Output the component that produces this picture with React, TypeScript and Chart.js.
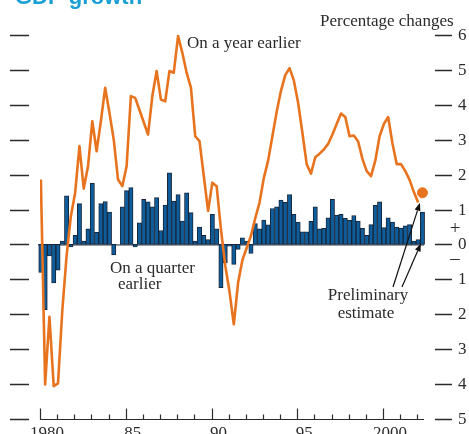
import React, { useEffect, useRef } from 'react';
import { Chart, registerables } from 'chart.js';

Chart.register(...registerables);

// ---- Data ----
const START_YEAR = 1980; // first quarter: 1980 Q1

// Percentage change on a quarter earlier (bars), 1980 Q1 – 2002 Q2
const QUARTER_ON_QUARTER = [
  -0.8, -1.87, -0.33, -1.1, -0.74, 0.1, 1.39, -0.07, 0.26, 1.17,
  0.1, 0.45, 1.75, 0.35, 1.17, 1.23, 0.93, -0.3, 0.0, 1.08,
  1.54, 1.63, -0.07, 0.62, 1.29, 1.22, 1.08, 1.34, 0.4, 1.13,
  2.05, 1.24, 1.43, 0.67, 1.48, 0.91, 0.1, 0.5, 0.26, 0.14,
  0.86, 0.45, -1.24, -0.53, -0.05, -0.57, -0.14, 0.19, 0.1, -0.26,
  0.6, 0.45, 0.7, 0.56, 1.03, 1.08, 1.27, 1.21, 1.43, 0.86,
  0.64, 0.36, 0.36, 0.66, 1.08, 0.45, 0.46, 0.76, 1.29, 0.84,
  0.86, 0.75, 0.69, 0.83, 0.67, 0.46, 0.26, 0.57, 1.12, 1.22,
  0.48, 0.76, 0.64, 0.5, 0.47, 0.53, 0.57, 0.1, 0.14, 0.93,
];

// Percentage change on a year earlier (line), 1980 Q1 – 2002 Q1
const YEAR_ON_YEAR = [
  1.86, -4.01, -2.07, -4.06, -3.98, -1.9, -0.33, 0.81, 1.48, 2.82,
  1.6, 2.24, 3.53, 2.67, 3.53, 4.49, 3.77, 3.0, 1.86, 1.67,
  2.24, 4.25, 4.2, 3.85, 3.5, 3.15, 4.25, 4.97, 4.15, 4.1,
  4.97, 4.92, 5.97, 5.49, 4.92, 4.49, 3.1, 2.96, 1.96, 0.96,
  1.77, 1.67, 0.43, -0.6, -1.35, -2.29, -1.1, -0.45, -0.1, 0.25,
  0.75, 1.2, 1.9, 2.4, 3.1, 3.8, 4.4, 4.85, 5.05, 4.7,
  4.06, 3.2, 2.3, 2.03, 2.5, 2.6, 2.72, 2.88, 3.15, 3.45,
  3.75, 3.65, 3.1, 3.12, 2.95, 2.45, 2.1, 1.96, 2.4, 3.1,
  3.45, 3.65, 2.9, 2.3, 2.3, 2.1, 1.85, 1.5, 1.2,
];

// Preliminary estimate (on a year earlier) for the latest quarter
const PRELIM_YEAR_ON_YEAR = 1.48;

const Y_TICKS = [6, 5, 4, 3, 2, 1, 0, -1, -2, -3, -4, -5];
const X_LABEL_YEARS = [1980, 1985, 1990, 1995, 2000];
const X_LABELS = ['1980', '85', '90', '95', '2000'];
const X_FIRST_TICK = 1980;
const X_LAST_TICK = 2002;

const TITLE = 'GDP growth';
const UNITS = 'Percentage changes';

// ---- Styles ----
const ORANGE = '#e8731e';
const BAR_FILL = '#0f5c9a';
const BAR_EDGE = '#17263a';
const INK = '#2b2b2b';
const TITLE_BLUE = '#1a9fd4';
const SERIF = '"Liberation Serif", "DejaVu Serif", serif';

const quarterX = (k: number) => START_YEAR + k / 4 + 0.05;

function drawArrow(ctx: CanvasRenderingContext2D, x1: number, y1: number, x2: number, y2: number) {
  const ang = Math.atan2(y2 - y1, x2 - x1);
  const len = 8;
  const half = 3;
  const bx = x2 - len * Math.cos(ang);
  const by = y2 - len * Math.sin(ang);
  ctx.beginPath();
  ctx.moveTo(x1, y1);
  ctx.lineTo(bx, by);
  ctx.lineWidth = 1.2;
  ctx.strokeStyle = '#111';
  ctx.stroke();
  ctx.beginPath();
  ctx.moveTo(x2, y2);
  ctx.lineTo(bx + half * Math.sin(ang), by - half * Math.cos(ang));
  ctx.lineTo(bx - half * Math.sin(ang), by + half * Math.cos(ang));
  ctx.closePath();
  ctx.fillStyle = '#111';
  ctx.fill();
}

const decorPlugin = {
  id: 'decor',
  beforeDatasetsDraw(chart: any) {
    const { ctx, scales, chartArea } = chart;
    const y0 = scales.y.getPixelForValue(0);
    ctx.save();
    ctx.strokeStyle = BAR_EDGE;
    ctx.lineWidth = 1;
    ctx.beginPath();
    ctx.moveTo(chartArea.left - 2, y0 + 0.5);
    ctx.lineTo(chartArea.right, y0 + 0.5);
    ctx.stroke();
    ctx.restore();
  },
  afterDraw(chart: any) {
    const { ctx, scales, chartArea } = chart;
    const xs = scales.x;
    const ys = scales.y;
    ctx.save();

    // Title (cut off at the top of the frame)
    ctx.fillStyle = TITLE_BLUE;
    ctx.font = 'bold 22px "Liberation Sans", Arial, sans-serif';
    ctx.textAlign = 'left';
    ctx.textBaseline = 'alphabetic';
    ctx.fillText(TITLE, 15, 4);

    // Left and right tick dashes + right labels
    ctx.strokeStyle = INK;
    ctx.lineWidth = 1.4;
    ctx.fillStyle = INK;
    ctx.font = `17px ${SERIF}`;
    ctx.textBaseline = 'middle';
    for (const v of Y_TICKS) {
      const py = Math.round(ys.getPixelForValue(v)) + 0.5;
      ctx.beginPath();
      ctx.moveTo(10, py);
      ctx.lineTo(29, py);
      ctx.moveTo(435, py);
      ctx.lineTo(452, py);
      ctx.stroke();
      ctx.textAlign = 'left';
      ctx.fillText(String(Math.abs(v)), 458, py);
    }

    // + / − markers
    ctx.textAlign = 'center';
    ctx.font = `19px ${SERIF}`;
    ctx.fillText('+', 455, ys.getPixelForValue(0.45));
    ctx.fillText('\u2013', 455, ys.getPixelForValue(-0.42));

    // Units label
    ctx.font = `17px ${SERIF}`;
    ctx.textAlign = 'left';
    ctx.textBaseline = 'alphabetic';
    ctx.fillText(UNITS, 320, 26);

    // X axis line and ticks
    const axisY = Math.round(ys.getPixelForValue(-5)) + 0.5;
    ctx.lineWidth = 1.2;
    ctx.beginPath();
    ctx.moveTo(chartArea.left, axisY);
    ctx.lineTo(chartArea.right, axisY);
    for (let yr = X_FIRST_TICK; yr <= X_LAST_TICK; yr++) {
      const px = Math.round(xs.getPixelForValue(yr)) + 0.5;
      const major = X_LABEL_YEARS.includes(yr);
      ctx.moveTo(px, axisY);
      ctx.lineTo(px, axisY - (major ? 11 : 5));
    }
    ctx.stroke();

    ctx.textAlign = 'center';
    X_LABEL_YEARS.forEach((yr, i) => {
      ctx.fillText(X_LABELS[i], xs.getPixelForValue(yr) + 7, axisY + 18);
    });

    // Series annotations
    ctx.textAlign = 'left';
    ctx.fillText('On a year earlier', 187, 48);
    ctx.fillText('On a quarter', 110, 273);
    ctx.fillText('earlier', 118, 289);
    ctx.textAlign = 'center';
    ctx.fillText('Preliminary', 368, 300);
    ctx.fillText('estimate', 366, 318);

    // Arrows to the preliminary estimates
    const lastK = QUARTER_ON_QUARTER.length - 1;
    const lx = xs.getPixelForValue(quarterX(lastK));
    const dotY = ys.getPixelForValue(PRELIM_YEAR_ON_YEAR);
    drawArrow(ctx, 393, 287, lx - 2.5, dotY + 10);
    drawArrow(ctx, 402, 287, lx - 1.5, ys.getPixelForValue(0) - 1);

    ctx.restore();
  },
};

export default function App() {
  const canvasRef = useRef<HTMLCanvasElement | null>(null);

  useEffect(() => {
    const canvas = canvasRef.current;
    if (!canvas) return;
    const bars = QUARTER_ON_QUARTER.map((v, k) => ({ x: quarterX(k), y: v }));
    const line = YEAR_ON_YEAR.map((v, k) => ({ x: quarterX(k), y: v }));
    const dot = [{ x: quarterX(QUARTER_ON_QUARTER.length - 1), y: PRELIM_YEAR_ON_YEAR }];

    const chart = new Chart(canvas, {
      type: 'bar',
      data: {
        datasets: [
          {
            type: 'line',
            label: 'On a year earlier',
            data: line,
            borderColor: ORANGE,
            borderWidth: 2.6,
            pointRadius: 0,
            tension: 0,
            borderJoinStyle: 'round',
            order: 0,
          } as any,
          {
            type: 'line',
            label: 'Preliminary estimate',
            data: dot,
            showLine: false,
            clip: false,
            pointRadius: 5,
            pointBackgroundColor: ORANGE,
            pointBorderColor: ORANGE,
            order: 0,
          } as any,
          {
            type: 'bar',
            label: 'On a quarter earlier',
            data: bars,
            backgroundColor: BAR_FILL,
            borderColor: BAR_EDGE,
            borderWidth: 1,
            borderSkipped: false,
            barPercentage: 1,
            categoryPercentage: 1,
            clip: false,
            order: 1,
          } as any,
        ],
      },
      options: {
        animation: false,
        responsive: false,
        maintainAspectRatio: false,
        layout: { padding: { left: 40, right: 45, top: 35, bottom: 15 } },
        scales: {
          x: { type: 'linear', min: 1980, max: 2002.39, offset: false, display: false },
          y: { type: 'linear', min: -5, max: 6, display: false },
        },
        plugins: {
          legend: { display: false },
          tooltip: { enabled: false },
        },
      },
      plugins: [decorPlugin],
    });
    return () => chart.destroy();
  }, []);

  return (
    <div style={{ position: 'absolute', left: 0, top: 0, width: 469, height: 434, background: '#fff' }}>
      <canvas ref={canvasRef} width={469} height={434} style={{ display: 'block', width: 469, height: 434 }} />
    </div>
  );
}
